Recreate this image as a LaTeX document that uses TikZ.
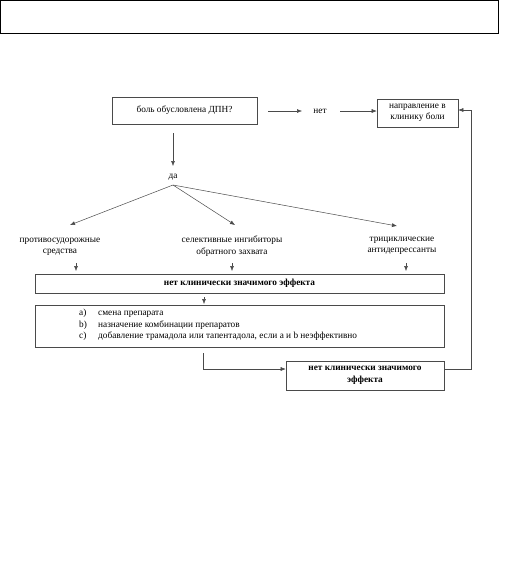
\documentclass[tikz,border=0pt]{standalone}
\usepackage{fontspec}
\setmainfont{Liberation Serif}
\usetikzlibrary{arrows.meta}
\definecolor{edge}{HTML}{4A4A4A}
\newcommand{\fs}{\fontsize{9.3}{11.5}\selectfont}
\newcommand{\itm}[2]{\makebox[19pt][l]{#1}#2}
\tikzset{
  box/.style={draw=edge, line width=0.6pt, rectangle, inner sep=1pt, align=center, font=\fs},
  lbl/.style={inner sep=0pt, align=center, font=\fs},
  conn/.style={draw=edge, line width=0.5pt},
  arr/.style={conn, -{Latex[length=5pt,width=4pt]}},
}
\begin{document}
\begin{tikzpicture}[x=1pt,y=-1pt]
\useasboundingbox (0,0) rectangle (516,568);
\fill[white] (0,0) rectangle (516,568);
% top empty box
\draw[line width=1.1pt] (0.8,0.8) rectangle (498.5,33.5);

\node[box, minimum width=145pt, minimum height=27pt] (q) at (184.5,110.5) {боль обусловлена ДПН?};
\node[lbl] (net) at (320,111) {нет};
\node[box, minimum width=81pt, minimum height=28pt] (clinic) at (417.5,113) {направление в\\клинику боли};
\node[lbl] (da) at (173,177) {да};
\coordinate (fan) at (173,185);

\node[lbl] (a1) at (60,247) {противосудорожные\\средства};
\node[lbl] (a2) at (232,246) {селективные ингибиторы\\обратного захвата};
\node[lbl] (a3) at (402,246) {трициклические\\антидепрессанты};

\coordinate (t1) at (70,225);
\coordinate (t2) at (235,225);
\coordinate (t3) at (397,226);

\node[box, minimum width=409pt, minimum height=19pt, font=\fs\bfseries] (fail1) at (239.5,283.5) {нет клинически значимого эффекта};
\node[box, minimum width=409pt, minimum height=42pt] (list) at (239.5,326) {};
\node[lbl, anchor=west, align=left] (la) at (79,313.5) {\itm{a)}{смена препарата}};
\node[lbl, anchor=west, align=left] (lb) at (79,325) {\itm{b)}{назначение комбинации препаратов}};
\node[lbl, anchor=west, align=left] (lc) at (79,336.5) {\itm{c)}{добавление трамадола или тапентадола, если a и b неэффективно}};

\node[box, minimum width=158pt, minimum height=29pt, font=\fs\bfseries] (fail2) at (365,375.5) {нет клинически значимого\\эффекта};

% connectors
\draw[arr, shorten <=11pt] (q.east |- 0,111) -- (302,111) coordinate (n1);
\draw[arr] (340,111) coordinate (n2) -- (clinic.west |- 0,111);
\draw[arr, shorten <=9pt] (q.south -| 173,0) -- (173,166) coordinate (dtop);
\draw[arr] (fan) -- (t1);
\draw[arr] (fan) -- (t2);
\draw[arr] (fan) -- (t3);

\coordinate (s1) at (76,263);
\coordinate (s2) at (232,263);
\coordinate (s3) at (406,263);
\draw[arr] (s1) -- (s1 |- 0,271);
\draw[arr] (s2) -- (s2 |- 0,271);
\draw[arr] (s3) -- (s3 |- 0,271);

\draw[arr] (204,297) -- (204,304);

\draw[arr, shorten <=6pt] (list.south -| 203,0) -- (203,369) -- (fail2.west |- 0,369);
\draw[arr] (fail2.east |- 0,369) -- (471,369) -- (471,110) -- (clinic.east |- 0,110);
\end{tikzpicture}
\end{document}
